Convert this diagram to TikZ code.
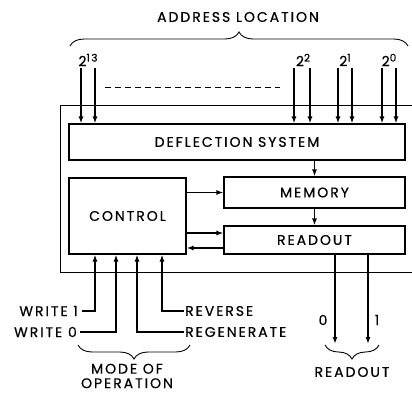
\documentclass[tikz,border=0pt]{standalone}
\usepackage{fontspec}
\setmainfont{Poppins}[LetterSpace=14,FakeBold=0.6]
\usetikzlibrary{arrows.meta,positioning,decorations.pathreplacing}
\newcommand{\bitpow}[1]{2\raisebox{.6ex}{\fontsize{10.5}{10}\selectfont #1}}

\begin{document}
\begin{tikzpicture}[
  x=1pt,y=-1pt,
  font=\fontsize{14}{16}\selectfont,
  block/.style={draw,line width=1.1pt,inner sep=0pt,align=center},
  sig/.style={line width=1.6pt,-{Latex[length=7pt,width=5pt]}},
  lbl/.style={inner sep=1pt,align=center},
  brc/.style={line width=.9pt,decorate,decoration={brace,amplitude=14pt}}
]
  \useasboundingbox (0,0) rectangle (412,393);

  % outer frame, open to the right
  \draw[line width=1pt] (412,106) -- (60,106) -- (60,272) -- (412,272);

  \node[block,minimum width=336pt,minimum height=36pt] (defl) at (237,142) {DEFLECTION SYSTEM};
  \node[block,minimum width=181pt,minimum height=31pt] (mem) at (314.5,192.5) {MEMORY};
  \node[block,minimum width=181pt,minimum height=28pt] (rd) at (314.5,240) {READOUT};
  \node[block,minimum width=117pt,minimum height=76pt] (ctl) at (127.5,216) {CONTROL};

  % address inputs
  \node[lbl] (addr) at (238,17) {ADDRESS LOCATION};
  \draw[brc] (70,46) -- (408,46);
  \node[lbl] (b13) at (88,60) {\bitpow{13}};
  \node[lbl] (b2) at (303,60) {\bitpow{2}};
  \node[lbl] (b1) at (345,60) {\bitpow{1}};
  \node[lbl] (b0) at (389,60) {\bitpow{0}};
  \foreach \x [count=\i] in {81,95,294,310,338,352,382,396} {
    \coordinate (a\i) at (\x,68);
    \draw[sig] (a\i) -- (a\i |- defl.north);
  }
  \draw[line width=.9pt,dash pattern=on 6pt off 4pt] (105,87) -- (280,87);

  % internal paths
  \draw[sig] (defl.south -| mem.north) -- (mem.north);
  \draw[sig] (mem.south) -- (rd.north);
  \draw[sig] (ctl.east |- mem.west) -- (mem.west);
  \draw[sig] ([yshift=7pt]ctl.east |- rd.west) -- ([yshift=7pt]rd.west);
  \draw[sig] ([yshift=-8pt]rd.west) -- ([yshift=-8pt]ctl.east |- rd.west);

  % mode of operation
  \node[lbl,anchor=east] (w1) at (79,311) {WRITE 1};
  \node[lbl,anchor=east] (w0) at (78,332) {WRITE 0};
  \node[lbl,anchor=west] (rev) at (184,311) {REVERSE};
  \node[lbl,anchor=west] (regen) at (184,332) {REGENERATE};
  \draw[sig] ([xshift=3pt]w1.east) -| ([xshift=-32.5pt]ctl.south);
  \draw[sig] ([xshift=2pt]w0.east) -| ([xshift=-11.5pt]ctl.south);
  \draw[sig] (regen.west) -| ([xshift=9.5pt]ctl.south);
  \draw[sig] (rev.west) -| ([xshift=34.5pt]ctl.south);
  \draw[brc] (190,345) -- (78,345);
  \node[lbl,font=\fontsize{14}{14.5}\selectfont] (mode) at (127,376) {MODE OF\\OPERATION};

  % readout outputs
  \coordinate (o0) at (335,344);
  \coordinate (o1) at (368,344);
  \draw[sig] ([xshift=20.5pt]rd.south) -- (o0);
  \draw[sig] ([xshift=53.5pt]rd.south) -- (o1);
  \node[lbl] (z0) at (323,320) {0};
  \node[lbl] (z1) at (377,320) {1};
  \draw[brc] (379,345) -- (325,345);
  \node[lbl] (rdout) at (352,372) {READOUT};
\end{tikzpicture}
\end{document}
